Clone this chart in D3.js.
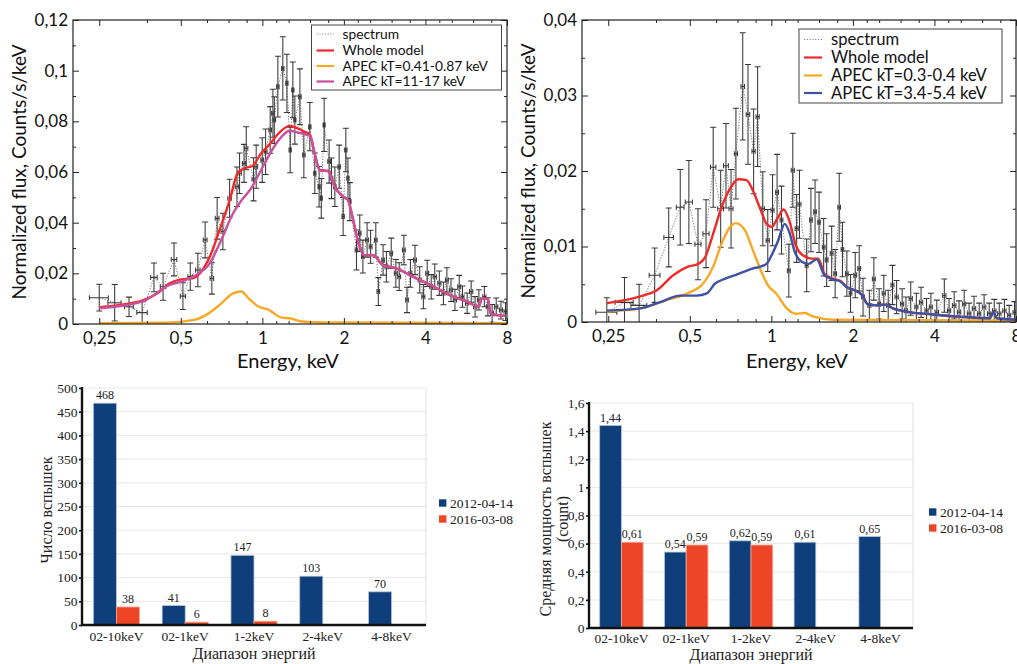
<!DOCTYPE html>
<html><head><meta charset="utf-8">
<script src="https://cdn.jsdelivr.net/npm/d3@7"></script>
<style>body{margin:0;background:#fff}svg{display:block}</style>
</head><body>
<svg id="c" width="1017" height="664"></svg>
<script>
// ---------------- DATA ----------------
// Spectrum ticks (log energy axis)
const xTickMajor = [0.25, 0.5, 1, 2, 4, 8];
const xTickMajorLabels = ["0,25", "0,5", "1", "2", "4", "8"];
const xTickMinor = [0.375, 0.625, 0.75, 0.875, 1.125, 1.25, 1.5, 1.75, 2.25, 2.5, 3, 3.5, 4.5, 5, 6, 7];

const p1YMajor = [0, 0.02, 0.04, 0.06, 0.08, 0.1, 0.12];
const p1YLabels = ["0", "0,02", "0,04", "0,06", "0,08", "0,1", "0,12"];
const p1YMinor = [0.01, 0.03, 0.05, 0.07, 0.09, 0.11];
const p2YMajor = [0, 0.01, 0.02, 0.03, 0.04];
const p2YLabels = ["0", "0,01", "0,02", "0,03", "0,04"];
const p2YMinor = [0.005, 0.015, 0.025, 0.035];

// Panel 1 spectrum points: [energy keV, half bin width keV, flux, flux error]
const p1Points = [
 [0.25,0.02,0.0104,0.0053],[0.285,0.016,0.0084,0.0072],[0.322,0.012,0.0068,0.0038],[0.36,0.016,0.0045,0.0043],
 [0.398,0.011,0.0184,0.0057],[0.43,0.01,0.0147,0.0053],[0.472,0.011,0.0255,0.0065],[0.509,0.011,0.011,0.0053],
 [0.542,0.011,0.0187,0.0054],[0.578,0.011,0.0213,0.0066],[0.615,0.01,0.0332,0.0071],[0.651,0.01,0.018,0.0062],
 [0.681,0.011,0.0417,0.0082],[0.715,0.011,0.0365,0.0072],[0.757,0.011,0.0496,0.0075],[0.806,0.012,0.0542,0.0078],
 [0.824,0.012,0.0595,0.008],[0.856,0.012,0.0634,0.0075],[0.872,0.012,0.0694,0.0085],[0.928,0.012,0.0571,0.0085],
 [0.949,0.012,0.0621,0.0085],[0.999,0.012,0.0647,0.0088],[1.028,0.012,0.068,0.009],[1.069,0.012,0.0766,0.0092],
 [1.094,0.012,0.0832,0.0095],[1.107,0.012,0.0805,0.0092],[1.141,0.012,0.0937,0.012],[1.19,0.012,0.1009,0.0125],
 [1.232,0.012,0.095,0.0115],[1.267,0.012,0.0687,0.009],[1.296,0.012,0.0924,0.011],[1.318,0.012,0.0805,0.0095],
 [1.376,0.015,0.0897,0.011],[1.423,0.015,0.0667,0.009],[1.497,0.015,0.0779,0.0095],[1.562,0.015,0.0595,0.008],
 [1.62,0.015,0.0542,0.008],[1.65,0.015,0.0496,0.0078],[1.691,0.015,0.0786,0.0105],[1.764,0.02,0.0641,0.0085],
 [1.8,0.02,0.0575,0.008],[1.852,0.02,0.0542,0.0078],[1.921,0.02,0.0621,0.0085],[1.987,0.02,0.0424,0.0075],
 [2.033,0.02,0.0687,0.0086],[2.07,0.02,0.0575,0.008],[2.105,0.02,0.0483,0.0075],[2.226,0.025,0.0292,0.0079],
 [2.289,0.025,0.0358,0.0072],[2.35,0.025,0.0266,0.0065],[2.436,0.03,0.0332,0.0068],[2.51,0.03,0.0305,0.0065],
 [2.623,0.03,0.0332,0.0068],[2.68,0.03,0.0128,0.0055],[2.79,0.03,0.0253,0.006],[2.87,0.035,0.0226,0.006],
 [2.99,0.035,0.0279,0.006],[3.11,0.04,0.02,0.0055],[3.2,0.04,0.0187,0.0055],[3.33,0.04,0.0292,0.0058],
 [3.42,0.04,0.0095,0.005],[3.52,0.045,0.02,0.0055],[3.66,0.045,0.0253,0.0058],[3.81,0.05,0.0174,0.0052],
 [3.93,0.05,0.0108,0.0048],[4.06,0.05,0.02,0.0052],[4.2,0.05,0.0147,0.0048],[4.33,0.06,0.0187,0.005],
 [4.5,0.06,0.0161,0.0048],[4.66,0.06,0.0121,0.0045],[4.8,0.06,0.0174,0.0048],[4.97,0.07,0.0134,0.0045],
 [5.14,0.07,0.0095,0.0042],[5.33,0.07,0.0147,0.0045],[5.48,0.07,0.0108,0.0042],[5.7,0.08,0.0082,0.004],
 [5.9,0.08,0.0128,0.0042],[6.1,0.08,0.0068,0.004],[6.3,0.08,0.0095,0.004],[6.6,0.09,0.0108,0.004],
 [6.8,0.09,0.0068,0.0036],[7.05,0.09,0.0042,0.0035],[7.3,0.1,0.0068,0.0035],[7.6,0.1,0.0055,0.0035],
 [7.9,0.1,0.0049,0.0035]
];
// Panel 1 model curves: [energy, flux]
const p1Whole = [[0.25,0.0066],[0.316,0.0079],[0.36,0.0092],[0.41,0.0121],[0.455,0.0161],[0.5,0.0176],[0.548,0.018],
 [0.588,0.02],[0.64,0.0266],[0.695,0.0371],[0.758,0.049],[0.81,0.0595],[0.86,0.0615],[0.92,0.0624],[0.99,0.0674],
 [1.06,0.0707],[1.15,0.0753],[1.26,0.0782],[1.33,0.0775],[1.43,0.0759],[1.5,0.0746],[1.56,0.0674],[1.63,0.0608],
 [1.75,0.0605],[1.85,0.0542],[1.99,0.0503],[2.07,0.049],[2.15,0.0424],[2.25,0.0332],[2.38,0.0272],[2.56,0.0272],
 [2.79,0.0233],[3.13,0.022],[3.6,0.0187],[4.3,0.0147],[4.9,0.0115],[5.7,0.0088],[6.3,0.0068],[6.45,0.0101],
 [6.8,0.0101],[6.96,0.0042],[7.3,0.0036],[7.9,0.0032]];
const p1Hot = [[0.25,0.0062],[0.36,0.0088],[0.455,0.0154],[0.5,0.0167],[0.57,0.0193],[0.64,0.024],[0.705,0.0332],
 [0.78,0.0437],[0.84,0.049],[0.91,0.0536],[0.975,0.0595],[1.06,0.0667],[1.15,0.0726],[1.26,0.0763],[1.35,0.0756],
 [1.47,0.0746],[1.5,0.0742],[1.56,0.0672],[1.63,0.0606],[1.75,0.0603],[1.85,0.054],[1.99,0.0502],[2.07,0.0489],
 [2.15,0.0423],[2.25,0.0331],[2.38,0.0271],[2.56,0.0271],[2.79,0.0232],[3.13,0.0219],[3.6,0.0186],[4.3,0.0147],
 [4.9,0.0115],[5.7,0.0088],[6.3,0.0068],[6.45,0.01],[6.8,0.01],[6.96,0.0042],[7.3,0.0036],[7.9,0.0032]];
const p1Cool = [[0.25,0.0003],[0.44,0.0005],[0.56,0.0016],[0.62,0.0036],[0.695,0.0075],[0.78,0.0121],[0.835,0.0128],
 [0.89,0.0101],[0.96,0.0071],[1.06,0.0055],[1.17,0.0026],[1.27,0.0022],[1.4,0.001],[1.84,0.0006],[8,0.0003]];

// Panel 2 spectrum points: [energy keV, half bin width keV, flux, flux error]
const p2Points = [
 [0.247,0.022,0.0013,0.0019],[0.287,0.022,0.0026,0.0033],[0.325,0.022,0.0022,0.0028],[0.371,0.017,0.0062,0.0036],
 [0.418,0.017,0.0112,0.0039],[0.461,0.015,0.0152,0.005],[0.496,0.015,0.0159,0.0055],[0.536,0.014,0.0103,0.0047],
 [0.574,0.015,0.0117,0.0045],[0.61,0.014,0.0205,0.0053],[0.65,0.016,0.015,0.0051],[0.68,0.014,0.0207,0.0056],
 [0.71,0.012,0.015,0.0052],[0.74,0.01,0.0223,0.006],[0.784,0.012,0.0312,0.0071],[0.82,0.012,0.0275,0.0066],
 [0.86,0.012,0.0226,0.0056],[0.89,0.012,0.0272,0.0066],[0.93,0.013,0.015,0.0049],[0.97,0.013,0.0108,0.0041],
 [1.01,0.013,0.0148,0.0047],[1.05,0.013,0.0172,0.005],[1.09,0.013,0.0135,0.0045],[1.16,0.014,0.0068,0.0035],
 [1.2,0.016,0.0201,0.0049],[1.24,0.016,0.0124,0.0045],[1.27,0.016,0.0156,0.0045],[1.35,0.016,0.0075,0.0035],
 [1.4,0.016,0.0135,0.0042],[1.45,0.016,0.0146,0.0042],[1.5,0.016,0.0132,0.004],[1.56,0.018,0.0099,0.0038],
 [1.6,0.018,0.0082,0.0035],[1.67,0.02,0.0091,0.0036],[1.72,0.02,0.0064,0.0032],[1.78,0.02,0.0152,0.0045],
 [1.83,0.02,0.0096,0.0036],[1.9,0.022,0.0064,0.003],[1.96,0.022,0.0038,0.0025],[2.04,0.025,0.0062,0.003],
 [2.11,0.025,0.0071,0.003],[2.18,0.025,0.0033,0.0025],[2.3,0.03,0.0022,0.002],[2.39,0.03,0.0057,0.0028],
 [2.5,0.03,0.0024,0.002],[2.6,0.035,0.0038,0.0024],[2.7,0.035,0.0022,0.002],[2.8,0.035,0.0049,0.0026],
 [2.9,0.04,0.0033,0.0022],[3.04,0.04,0.0024,0.002],[3.14,0.04,0.0015,0.0018],[3.27,0.045,0.0031,0.0022],
 [3.43,0.045,0.002,0.0018],[3.57,0.05,0.0026,0.002],[3.74,0.05,0.0015,0.0016],[3.88,0.05,0.002,0.0018],
 [4.08,0.06,0.0013,0.0016],[4.35,0.06,0.0035,0.0022],[4.53,0.06,0.0015,0.0016],[4.73,0.07,0.0022,0.0018],
 [4.93,0.07,0.0013,0.0015],[5.15,0.07,0.0024,0.0018],[5.37,0.08,0.0011,0.0014],[5.6,0.08,0.0018,0.0016],
 [5.85,0.08,0.0011,0.0014],[6.1,0.09,0.002,0.0016],[6.37,0.09,0.0011,0.0014],[6.65,0.1,0.0015,0.0015],
 [6.94,0.1,0.0011,0.0014],[7.25,0.1,0.0015,0.0015],[7.55,0.1,0.0009,0.0013],[7.9,0.1,0.0013,0.0014]
];
const p2Whole = [[0.247,0.0025],[0.328,0.0034],[0.378,0.0042],[0.434,0.0062],[0.49,0.0073],[0.538,0.0077],[0.57,0.0086],
 [0.61,0.0117],[0.655,0.0152],[0.705,0.0177],[0.756,0.0189],[0.81,0.0188],[0.855,0.0174],[0.905,0.0152],[0.96,0.013],
 [1.0,0.0126],[1.06,0.0139],[1.11,0.0149],[1.17,0.0132],[1.23,0.0102],[1.31,0.0088],[1.41,0.0084],[1.49,0.0084],
 [1.57,0.0064],[1.69,0.0057],[1.79,0.0055],[1.9,0.0046],[2.03,0.0042],[2.17,0.0035],[2.26,0.0024],[2.45,0.0022],
 [2.62,0.0023],[2.81,0.0018],[3.23,0.0013],[3.95,0.001],[4.97,0.0007],[6.4,0.0005],[6.6,0.0013],[6.8,0.0005],[8,0.0003]];
const p2Hot = [[0.247,0.0015],[0.328,0.0018],[0.387,0.0026],[0.46,0.0035],[0.53,0.0035],[0.578,0.0038],[0.62,0.0051],
 [0.66,0.0056],[0.72,0.0061],[0.785,0.0066],[0.855,0.0071],[0.905,0.0073],[0.96,0.0077],[1.01,0.0091],[1.06,0.0108],
 [1.12,0.013],[1.17,0.0117],[1.22,0.0093],[1.29,0.008],[1.37,0.0077],[1.47,0.0083],[1.57,0.0062],[1.69,0.0056],
 [1.79,0.0054],[1.9,0.0046],[2.03,0.0042],[2.17,0.0035],[2.26,0.0024],[2.45,0.0022],[2.62,0.0023],[2.81,0.0018],
 [3.23,0.0013],[3.95,0.001],[4.97,0.0007],[6.4,0.0005],[6.6,0.0013],[6.8,0.0005],[8,0.0003]];
const p2Cool = [[0.247,0.0014],[0.328,0.0018],[0.41,0.0029],[0.49,0.0038],[0.56,0.0051],[0.61,0.0073],[0.655,0.0104],
 [0.705,0.0126],[0.74,0.0131],[0.8,0.0121],[0.855,0.0095],[0.915,0.0068],[0.97,0.0049],[1.04,0.0038],[1.14,0.0018],
 [1.23,0.0011],[1.33,0.0012],[1.43,0.0007],[1.7,0.0003],[8,0.0002]];

const p1Legend = ["spectrum", "Whole model", "APEC kT=0.41-0.87 keV", "APEC kT=11-17 keV"];
const p2Legend = ["spectrum", "Whole model", "APEC kT=0.3-0.4 keV", "APEC kT=3.4-5.4 keV"];

// Bar charts
const bandCats = ["02-10keV", "02-1keV", "1-2keV", "2-4keV", "4-8keV"];
const seriesNames = ["2012-04-14", "2016-03-08"];
const countBlue = [468, 41, 147, 103, 70];
const countRed = [38, 6, 8, null, null];
const powerBlue = [1.44, 0.54, 0.62, 0.61, 0.65];
const powerRed = [0.61, 0.59, 0.59, null, null];
const countTicks = [0, 50, 100, 150, 200, 250, 300, 350, 400, 450, 500];
const powerTicks = [0, 0.2, 0.4, 0.6, 0.8, 1, 1.2, 1.4, 1.6];

// ---------------- DRAWING ----------------
const svg = d3.select('#c');
const SANS = 'Lato, "Open Sans", sans-serif';
const SERIF = '"Liberation Serif", "DejaVu Serif", serif';

function drawSpectrum(c) {
  const g = svg.append('g');
  const x = d3.scaleLog().domain([0.2, 8]).range([c.left, c.right]);
  const y = d3.scaleLinear().domain([0, c.ymax]).range([c.bottom, c.top]);
  const clipId = 'clip' + c.id;
  svg.append('clipPath').attr('id', clipId).append('rect')
    .attr('x', c.left).attr('y', c.top).attr('width', c.right - c.left).attr('height', c.bottom - c.top);
  const plot = g.append('g').attr('clip-path', `url(#${clipId})`);

  // dotted spectrum line
  plot.append('path').datum(c.points)
    .attr('d', d3.line().x(d => x(d[0])).y(d => y(d[2])))
    .attr('fill', 'none').attr('stroke', '#6a6a6a').attr('stroke-width', 0.9).attr('stroke-dasharray', '1.2,1.6');

  // error bars
  plot.append('g').selectAll('path').data(c.points).join('path')
    .attr('fill', 'none').attr('stroke', '#383838').attr('stroke-width', 1.05)
    .attr('d', d => {
      const cx = x(d[0]), cy = y(d[2]);
      const xl = x(d[0] - d[1]), xr = x(d[0] + d[1]);
      const yt = y(d[2] + d[3]), yb = y(d[2] - d[3]);
      return `M${cx},${yt}V${yb}M${cx - 3},${yt}H${cx + 3}M${cx - 3},${yb}H${cx + 3}` +
             `M${xl},${cy}H${xr}M${xl},${cy - 2.5}V${cy + 2.5}M${xr},${cy - 2.5}V${cy + 2.5}`;
    });

  // model curves
  const line = d3.line().x(d => x(d[0])).y(d => y(d[1])).curve(d3.curveMonotoneX);
  c.curves.forEach(cv => {
    plot.append('path').datum(cv.data).attr('d', line)
      .attr('fill', 'none').attr('stroke', cv.color).attr('stroke-width', 2.4).attr('stroke-linejoin', 'round');
  });

  // axes
  const style = sel => {
    sel.select('.domain').remove();
    sel.selectAll('line').attr('stroke', '#222').attr('stroke-width', 1);
    sel.selectAll('text').attr('font-family', SANS).attr('font-size', 17).attr('fill', '#111');
  };
  g.append('g').attr('transform', `translate(0,${c.bottom})`)
    .call(d3.axisBottom(x).tickValues(xTickMajor).tickFormat((d, i) => xTickMajorLabels[i]).tickSize(-6).tickPadding(8)).call(style);
  g.append('g').attr('transform', `translate(0,${c.bottom})`)
    .call(d3.axisBottom(x).tickValues(xTickMinor).tickFormat('').tickSize(-3)).call(style);
  g.append('g').attr('transform', `translate(0,${c.top})`)
    .call(d3.axisTop(x).tickValues(xTickMajor).tickFormat('').tickSize(-6)).call(style);
  g.append('g').attr('transform', `translate(0,${c.top})`)
    .call(d3.axisTop(x).tickValues(xTickMinor).tickFormat('').tickSize(-3)).call(style);
  g.append('g').attr('transform', `translate(${c.left},0)`)
    .call(d3.axisLeft(y).tickValues(c.yMajor).tickFormat((d, i) => c.yLabels[i]).tickSize(-6).tickPadding(5)).call(style);
  g.append('g').attr('transform', `translate(${c.left},0)`)
    .call(d3.axisLeft(y).tickValues(c.yMinor).tickFormat('').tickSize(-3)).call(style);
  g.append('g').attr('transform', `translate(${c.right},0)`)
    .call(d3.axisRight(y).tickValues(c.yMajor).tickFormat('').tickSize(-6)).call(style);
  g.append('g').attr('transform', `translate(${c.right},0)`)
    .call(d3.axisRight(y).tickValues(c.yMinor).tickFormat('').tickSize(-3)).call(style);

  // frame
  g.append('rect').attr('x', c.left).attr('y', c.top).attr('width', c.right - c.left).attr('height', c.bottom - c.top)
    .attr('fill', 'none').attr('stroke', '#222').attr('stroke-width', 1.2);

  // titles
  g.append('text').attr('x', (c.left + c.right) / 2 + c.xTitleShift).attr('y', 368).attr('text-anchor', 'middle')
    .attr('font-family', SANS).attr('font-size', 20).attr('fill', '#111').text('Energy, keV');
  g.append('text').attr('transform', `translate(${c.yTitleX},${(c.top + c.bottom) / 2}) rotate(-90)`)
    .attr('text-anchor', 'middle').attr('font-family', SANS).attr('font-size', 19).attr('fill', '#111')
    .text('Normalized flux, Counts/s/keV');

  // legend
  const L = c.legend;
  const lg = g.append('g');
  lg.append('rect').attr('x', L.x).attr('y', L.y).attr('width', L.w).attr('height', L.h)
    .attr('fill', '#fff').attr('stroke', '#444').attr('stroke-width', 1);
  const legColors = ['#777', c.curves[0].color, c.curves[1].color, c.curves[2].color];
  c.legendLabels.forEach((t, i) => {
    const ry = L.rows[i];
    lg.append('line').attr('x1', L.lx0).attr('x2', L.lx1).attr('y1', ry).attr('y2', ry)
      .attr('stroke', legColors[i]).attr('stroke-width', i === 0 ? 0.9 : 2.2)
      .attr('stroke-dasharray', i === 0 ? '1.2,1.6' : null);
    lg.append('text').attr('x', L.tx).attr('y', ry).attr('dy', '0.35em')
      .attr('font-family', SANS).attr('font-size', L.fs).attr('fill', '#111').text(t);
  });
}

drawSpectrum({
  id: 1, left: 73, right: 507, top: 20, bottom: 324, ymax: 0.12,
  yMajor: p1YMajor, yLabels: p1YLabels, yMinor: p1YMinor,
  points: p1Points,
  curves: [{data: p1Whole, color: '#ee2a2a'}, {data: p1Cool, color: '#f7a824'}, {data: p1Hot, color: '#c9509f'}],
  legendLabels: p1Legend, xTitleShift: -2, yTitleX: 26,
  legend: {x: 311.5, y: 25, w: 190, h: 65, lx0: 316.5, lx1: 334, tx: 342.5, fs: 13.8, rows: [34, 50.5, 66, 81.5]}
});
drawSpectrum({
  id: 2, left: 582, right: 1016, top: 20, bottom: 322, ymax: 0.04,
  yMajor: p2YMajor, yLabels: p2YLabels, yMinor: p2YMinor,
  points: p2Points,
  curves: [{data: p2Whole, color: '#ee2a2a'}, {data: p2Cool, color: '#f7a824'}, {data: p2Hot, color: '#3d52a3'}],
  legendLabels: p2Legend, xTitleShift: -2, yTitleX: 535,
  legend: {x: 799, y: 29, w: 203, h: 74, lx0: 804, lx1: 822, tx: 831, fs: 16.6, rows: [39.5, 57.5, 75.5, 93]}
});

function drawBars(c) {
  const g = svg.append('g');
  const x0 = d3.scaleBand().domain(bandCats).range([c.left, c.right]);
  const bw = x0.bandwidth();
  const x1 = d3.scaleBand().domain([0, 1]).range([bw * 0.165, bw * 0.835]);
  const y = d3.scaleLinear().domain([0, c.ymax]).range([c.bottom, c.top]);

  g.append('g').selectAll('line').data(c.ticks.slice(1)).join('line')
    .attr('x1', c.left).attr('x2', c.right).attr('y1', d => y(d)).attr('y2', d => y(d))
    .attr('stroke', '#e8e8e8').attr('stroke-width', 1);
  g.append('line').attr('x1', c.right).attr('x2', c.right).attr('y1', c.top).attr('y2', c.bottom)
    .attr('stroke', '#e2e2e2').attr('stroke-width', 1);

  const colors = ['#0f3f7a', '#ee4526'];
  const strokes = ['#b7c3d8', '#f6a790'];
  [c.blue, c.red].forEach((vals, si) => {
    const data = bandCats.map((k, i) => ({k, v: vals[i]})).filter(d => d.v != null);
    g.append('g').selectAll('rect').data(data).join('rect')
      .attr('x', d => x0(d.k) + x1(si)).attr('width', x1.bandwidth())
      .attr('y', d => y(d.v)).attr('height', d => y(0) - y(d.v))
      .attr('fill', colors[si]).attr('stroke', strokes[si]).attr('stroke-width', 0.8);
    g.append('g').selectAll('text').data(data).join('text')
      .attr('x', d => x0(d.k) + x1(si) + x1.bandwidth() / 2).attr('y', d => y(d.v) - 4)
      .attr('text-anchor', 'middle').attr('font-family', SERIF).attr('font-size', 12).attr('fill', '#222')
      .text(d => c.fmt(d.v));
  });

  const ya = g.append('g').attr('transform', `translate(${c.left},0)`)
    .call(d3.axisLeft(y).tickValues(c.ticks).tickFormat(c.tickFmt).tickSize(3).tickPadding(1.5));
  ya.select('.domain').remove();
  ya.selectAll('line').attr('stroke', '#111').attr('stroke-width', 1.6);
  ya.selectAll('text').attr('font-family', SERIF).attr('font-size', 13.5).attr('fill', '#222');

  const xa = g.append('g').attr('transform', `translate(0,${c.bottom})`)
    .call(d3.axisBottom(x0).tickSize(0).tickPadding(c.xPad));
  xa.select('.domain').remove();
  xa.selectAll('text').attr('font-family', SERIF).attr('font-size', 13.5).attr('fill', '#222');

  g.append('line').attr('x1', c.left).attr('x2', c.left).attr('y1', c.top - 1).attr('y2', c.bottom + 1)
    .attr('stroke', '#111').attr('stroke-width', 2.4);
  g.append('line').attr('x1', c.left - 1).attr('x2', c.right).attr('y1', c.bottom).attr('y2', c.bottom)
    .attr('stroke', '#111').attr('stroke-width', 2.4);

  g.append('text').attr('x', (c.left + c.right) / 2).attr('y', c.xTitleY).attr('text-anchor', 'middle')
    .attr('font-family', SERIF).attr('font-size', 16).attr('fill', '#222').text('Диапазон энергий');
  c.yTitle.forEach((t, i) => {
    g.append('text').attr('transform', `translate(${c.yTitleX[i]},${c.yTitleY}) rotate(-90)`)
      .attr('text-anchor', 'middle').attr('font-family', SERIF).attr('font-size', 16).attr('fill', '#222').text(t);
  });

  seriesNames.forEach((s, i) => {
    const ry = c.legY[i];
    g.append('rect').attr('x', c.legX).attr('y', ry - 3.7).attr('width', 7.4).attr('height', 7.4).attr('fill', colors[i]);
    g.append('text').attr('x', c.legX + 11).attr('y', ry).attr('dy', '0.35em')
      .attr('font-family', SERIF).attr('font-size', 13.5).attr('fill', '#222').text(s);
  });
}

const comma = v => String(v).replace('.', ',');
drawBars({
  left: 82, right: 426, top: 388, bottom: 625, ymax: 500, ticks: countTicks,
  blue: countBlue, red: countRed, fmt: v => String(v), tickFmt: d => String(d), xPad: 6,
  xTitleY: 659, yTitle: ['Число вспышек'], yTitleX: [52], yTitleY: 510,
  legX: 439, legY: [503, 519]
});
drawBars({
  left: 589, right: 913, top: 403, bottom: 628, ymax: 1.6, ticks: powerTicks,
  blue: powerBlue, red: powerRed, fmt: v => d3.format('.2f')(v).replace('.', ','),
  tickFmt: d => comma(+d.toFixed(1)), xPad: 5.5,
  xTitleY: 660, yTitle: ['Средняя мощность вспышек', '(count)'], yTitleX: [551, 568], yTitleY: 519,
  legX: 929, legY: [512, 528]
});
</script>
</body></html>
